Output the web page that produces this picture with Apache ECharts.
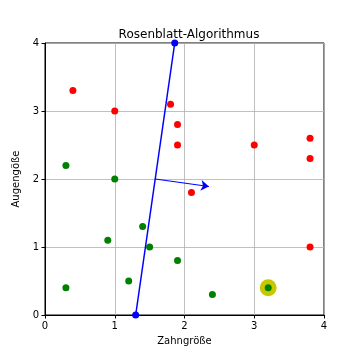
<!DOCTYPE html>
<html><head><meta charset="utf-8">
<script src="https://cdn.jsdelivr.net/npm/echarts@6/dist/echarts.min.js"></script>
<style>html,body{margin:0;padding:0;background:#fff}#c{width:360px;height:360px}</style>
</head><body><div id="c"></div>
<script>
const redPoints = [[0.4,3.3],[1.0,3.0],[1.8,3.1],[1.9,2.8],[1.9,2.5],[3.0,2.5],[3.8,2.6],[3.8,2.3],[2.1,1.8],[3.8,1.0]];
const greenPoints = [[0.3,2.2],[1.0,2.0],[1.4,1.3],[0.9,1.1],[1.5,1.0],[1.9,0.8],[1.2,0.5],[0.3,0.4],[2.4,0.3],[3.2,0.4]];
const highlightPoint = [[3.2,0.4]];
const separatorLine = [[1.3,0.0],[1.86,4.0]];
const weightArrow = [[1.58,2.0],[2.35,1.89]];
const xTicks = [0,1,2,3,4];
const yTicks = [0,1,2,3,4];

const font = 'DejaVu Sans';
const chart = echarts.init(document.getElementById('c'), null, {renderer:'canvas'});
chart.setOption({
  animation:false,
  title:{text:'Rosenblatt-Algorithmus', left:184, textAlign:'center', top:24,
    textStyle:{fontFamily:font, fontSize:12, fontWeight:'normal', color:'#000'}},
  grid:{left:45, right:36, top:43, bottom:45, show:true, borderColor:'#000', borderWidth:1, backgroundColor:'transparent'},
  xAxis:{type:'value', min:xTicks[0], max:xTicks[xTicks.length-1], interval:1,
    name:'Zahngröße', nameLocation:'middle', nameGap:21,
    nameTextStyle:{fontFamily:font, fontSize:10, color:'#000'},
    axisLine:{show:true, lineStyle:{color:'#000', width:1}},
    axisTick:{show:true, length:3.5, lineStyle:{color:'#000'}},
    axisLabel:{fontFamily:font, fontSize:10, color:'#000', margin:6},
    splitLine:{show:true, lineStyle:{color:'#b0b0b0', width:0.8}}},
  yAxis:{type:'value', min:yTicks[0], max:yTicks[yTicks.length-1], interval:1,
    name:'Augengöße', nameLocation:'middle', nameGap:14,
    nameTextStyle:{fontFamily:font, fontSize:10, color:'#000'},
    axisLine:{show:true, lineStyle:{color:'#000', width:1}},
    axisTick:{show:true, length:3.5, lineStyle:{color:'#000'}},
    axisLabel:{fontFamily:font, fontSize:10, color:'#000', margin:6},
    splitLine:{show:true, lineStyle:{color:'#b0b0b0', width:0.8}}},
  series:[
    {type:'scatter', data:highlightPoint, symbolSize:17, itemStyle:{color:'#c8c800', opacity:1}, z:2},
    {type:'scatter', data:redPoints, symbolSize:7, itemStyle:{color:'#ff0000', opacity:1}, z:3},
    {type:'scatter', data:greenPoints, symbolSize:7, itemStyle:{color:'#008000', opacity:1}, z:3},
    {type:'line', data:separatorLine, symbol:'circle', symbolSize:7, clip:true,
      lineStyle:{color:'#0000ff', width:1.5}, itemStyle:{color:'#0000ff'}, z:4},
    {type:'lines', coordinateSystem:'cartesian2d', data:[{coords:weightArrow}],
      symbol:['none','arrow'], symbolSize:[5,8],
      lineStyle:{color:'#0000ff', width:1.2, opacity:1}, z:4}
  ]
});
</script></body></html>
